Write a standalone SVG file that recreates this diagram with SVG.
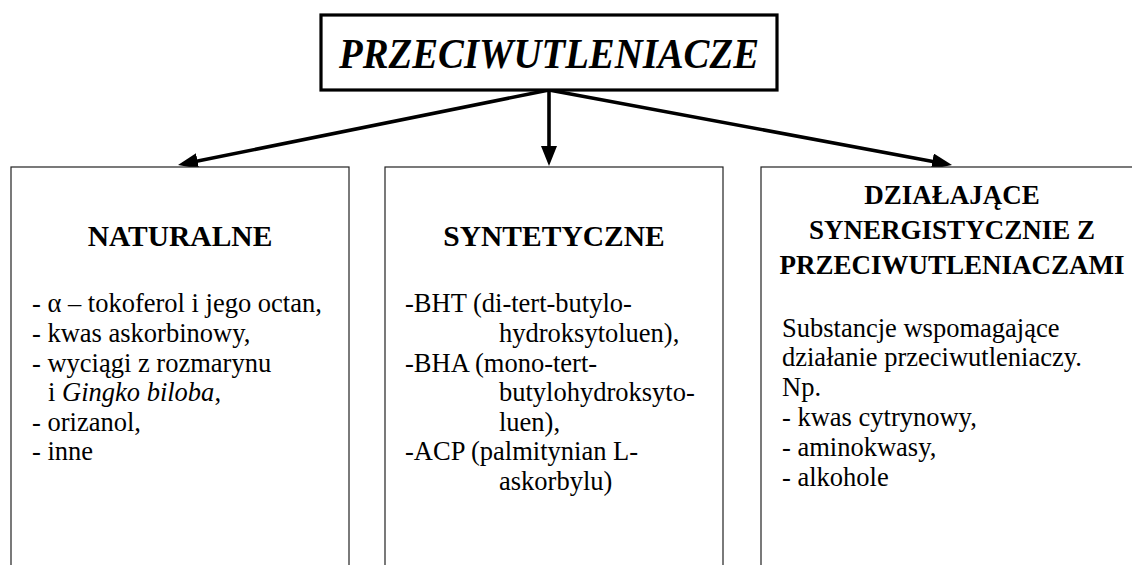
<svg xmlns="http://www.w3.org/2000/svg" width="1132" height="565" viewBox="0 0 1132 565">
  <defs>
    <marker id="arrowhead" markerUnits="userSpaceOnUse" markerWidth="22" markerHeight="18" refX="10" refY="8" orient="auto">
      <path d="M0,0 L20,8 L0,16 Z" fill="#000"/>
    </marker>
  </defs>
  <style>
    .frame { fill: #fff; stroke: #222; stroke-width: 1.2; }
    .title-frame { fill: #fff; stroke: #000; stroke-width: 3.2; }
    .serif { font-family: 'Liberation Serif', 'Times New Roman', serif; fill: #000; }
    .title { font-weight: bold; font-style: italic; font-size: 42px; }
    .head { font-weight: bold; font-size: 27px; text-anchor: middle; }
    .head-lg { font-size: 29.5px; }
    .body { font-size: 26.5px; }
    .link { stroke: #000; stroke-width: 3.6; fill: none; marker-end: url(#arrowhead); }
  </style>
  <rect width="1132" height="565" fill="#fff"/>

  <!-- arrows from the root box to the three category boxes -->
  <g id="connectors">
    <line class="link" x1="549" y1="90" x2="187.8" y2="163"/>
    <line class="link" x1="549" y1="90" x2="549" y2="156"/>
    <line class="link" x1="549" y1="90" x2="942.2" y2="163.2"/>
  </g>

  <g id="node-root" class="serif">
    <rect class="title-frame" x="321" y="15" width="456" height="75"/>
    <text class="title" x="549" y="68" text-anchor="middle" textLength="420" lengthAdjust="spacingAndGlyphs">PRZECIWUTLENIACZE</text>
  </g>

  <g id="node-naturalne" class="serif">
    <rect class="frame" x="11" y="167" width="338" height="420"/>
    <text class="head head-lg" x="180" y="246">NATURALNE</text>
    <text class="body" x="32" y="312">- α – tokoferol i jego octan,</text>
    <text class="body" x="32" y="342">- kwas askorbinowy,</text>
    <text class="body" x="32" y="372">- wyciągi z rozmarynu</text>
    <text class="body" x="48" y="401">i <tspan font-style="italic">Gingko biloba</tspan>,</text>
    <text class="body" x="32" y="431">- orizanol,</text>
    <text class="body" x="32" y="460">- inne</text>
  </g>

  <g id="node-syntetyczne" class="serif">
    <rect class="frame" x="385" y="167" width="338" height="420"/>
    <text class="head head-lg" x="554" y="246">SYNTETYCZNE</text>
    <text class="body" x="405" y="312">-BHT (di-tert-butylo-</text>
    <text class="body" x="499" y="342">hydroksytoluen),</text>
    <text class="body" x="405" y="372">-BHA (mono-tert-</text>
    <text class="body" x="499" y="401">butylohydroksyto-</text>
    <text class="body" x="499" y="431">luen),</text>
    <text class="body" x="405" y="460">-ACP (palmitynian L-</text>
    <text class="body" x="499" y="490">askorbylu)</text>
  </g>

  <g id="node-synergisty" class="serif">
    <rect class="frame" x="761" y="167" width="420" height="420"/>
    <text class="head" x="952" y="204">DZIAŁAJĄCE</text>
    <text class="head" x="952" y="239">SYNERGISTYCZNIE Z</text>
    <text class="head" x="952" y="274">PRZECIWUTLENIACZAMI</text>
    <text class="body" x="782" y="337">Substancje wspomagające</text>
    <text class="body" x="782" y="366">działanie przeciwutleniaczy.</text>
    <text class="body" x="782" y="396">Np.</text>
    <text class="body" x="782" y="426">- kwas cytrynowy,</text>
    <text class="body" x="782" y="456">- aminokwasy,</text>
    <text class="body" x="782" y="486">- alkohole</text>
  </g>
</svg>
